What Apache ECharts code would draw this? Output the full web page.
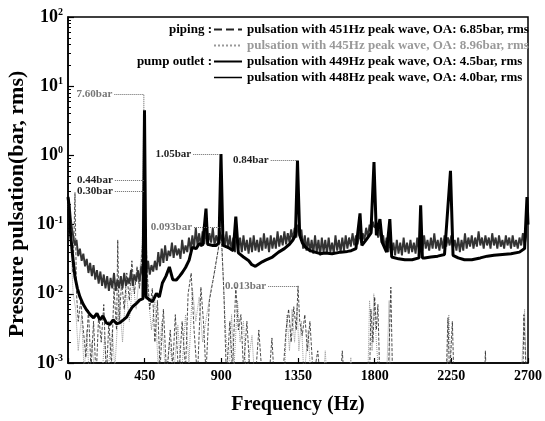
<!DOCTYPE html>
<html>
<head>
<meta charset="utf-8">
<script src="https://cdn.jsdelivr.net/npm/echarts@6/dist/echarts.min.js"></script>
<style>
  html, body { margin: 0; padding: 0; background: #fff; }
  #graph { width: 545px; height: 421px; }
</style>
</head>
<body>
<div id="graph"></div>
<script>
var FONT = 'Liberation Serif';

// legend names
var names = [
    'pulsation with 451Hz peak wave, OA: 6.85bar, rms',
    'pulsation with 445Hz peak wave, OA: 8.96bar, rms',
    'pulsation with 449Hz peak wave, OA: 4.5bar, rms',
    'pulsation with 448Hz peak wave, OA: 4.0bar, rms'
];

var xTicks = [0, 450, 900, 1350, 1800, 2250, 2700];

// piping, 451Hz (dashed black)
var piping451Freq = [0, 10, 20, 30, 41, 50, 60, 75, 90, 105, 120, 135, 150, 165, 180, 195, 210, 225, 240, 255,
    270, 285, 292, 300, 315, 330, 345, 360, 375, 390, 405, 420, 435, 451, 465, 480, 495, 510, 525, 540,
    560, 580, 600, 615, 630, 650, 670, 690, 705, 723, 740, 760, 780, 795, 810, 830, 850, 870, 886, 902,
    915, 930, 950, 965, 985, 1000, 1015, 1030, 1050, 1070, 1100, 1120, 1140, 1180, 1197, 1210, 1260, 1280, 1295, 1310,
    1325, 1340, 1350, 1360, 1375, 1390, 1405, 1420, 1440, 1466, 1480, 1600, 1610, 1620, 1770, 1778, 1790, 1800, 1810, 1819,
    1830, 1880, 1895, 1905, 2220, 2230, 2240, 2256, 2265, 2445, 2450, 2455, 2670, 2676, 2690, 2700];
var piping451Val = [0.25, 0.12, 0.05, 0.02, 0.29, 0.01, 0.004, 0.008, 0.003, 0.0012, 0.006, 0.0008, 0.004, 0.0006, 0.005, 0.002, 0.007, 0.0006, 0.004, 0.0009,
    0.012, 0.003, 0.06, 0.004, 0.015, 0.006, 0.02, 0.008, 0.03, 0.01, 0.025, 0.012, 0.04, 0.30, 0.02, 0.006, 0.012, 0.002, 0.008, 0.0008,
    0.006, 0.0006, 0.003, 0.0009, 0.005, 0.0006, 0.004, 0.0008, 0.01, 0.02, 0.003, 0.0006, 0.0125, 0.004, 0.0007, 0.008, 0.015, 0.03, 0.05, 0.06,
    0.01, 0.0006, 0.004, 0.0008, 0.0125, 0.003, 0.005, 0.0008, 0.004, 0.0006, 0.0006, 0.003, 0.0006, 0.0006, 0.0023, 0.0006, 0.0006, 0.003, 0.006, 0.002,
    0.0065, 0.003, 0.013, 0.004, 0.0025, 0.005, 0.0015, 0.004, 0.0006, 0.0015, 0.0006, 0.0006, 0.0015, 0.0006, 0.0006, 0.006, 0.002, 0.009, 0.003, 0.007,
    0.0006, 0.0006, 0.0125, 0.0006, 0.0006, 0.0045, 0.0006, 0.004, 0.0006, 0.0006, 0.0015, 0.0006, 0.0006, 0.005, 0.0006, 0.0006];

// piping, 445Hz (grey dotted)
var piping445Freq = [0, 15, 30, 45, 60, 80, 95, 110, 125, 140, 160, 200, 215, 230, 260, 275, 300, 320, 340, 360,
    380, 400, 420, 435, 445, 455, 470, 490, 510, 530, 550, 575, 595, 620, 645, 665, 690, 710, 730, 750,
    770, 790, 815, 840, 860, 880, 895, 910, 925, 945, 960, 975, 995, 1010, 1030, 1045, 1080, 1095, 1270, 1285,
    1300, 1315, 1330, 1345, 1355, 1370, 1385, 1410, 1425, 1500, 1510, 1520, 1650, 1660, 1670, 1760, 1770, 1785, 1795, 1810,
    1825, 1870, 1885, 1890, 2225, 2235, 2250, 2660, 2680, 2690, 2700];
var piping445Val = [0.2, 0.06, 0.01, 0.006, 0.0015, 0.005, 0.0007, 0.003, 0.0006, 0.002, 0.0006, 0.0006, 0.0025, 0.0006, 0.003, 0.0008, 0.01, 0.002, 0.012, 0.004,
    0.015, 0.006, 0.02, 0.05, 7.6, 0.05, 0.01, 0.003, 0.008, 0.0008, 0.004, 0.0006, 0.002, 0.0007, 0.0035, 0.0006, 0.005, 0.001, 0.012, 0.004,
    0.009, 0.002, 0.005, 0.012, 0.02, 0.04, 0.09, 0.02, 0.003, 0.0006, 0.005, 0.0009, 0.008, 0.002, 0.004, 0.0006, 0.0025, 0.0006, 0.0006, 0.005,
    0.0015, 0.006, 0.002, 0.007, 0.0015, 0.004, 0.0006, 0.003, 0.0006, 0.0006, 0.0015, 0.0006, 0.0006, 0.0012, 0.0006, 0.0006, 0.008, 0.0015, 0.01, 0.002,
    0.0006, 0.0006, 0.008, 0.0006, 0.0006, 0.005, 0.0006, 0.0006, 0.006, 0.0006, 0.0006];

// pump outlet, 449Hz (thick black)
var outlet449Freq = [0, 5, 12, 25, 41, 55, 70, 90, 110, 130, 150, 170, 187, 205, 225, 245, 265, 285, 303, 325,
    344, 360, 379, 400, 420, 440, 449, 458, 478, 496, 519, 536, 554, 575, 595, 615, 636, 655, 671, 690,
    711, 729, 752, 770, 790, 810, 820, 850, 870, 886, 898, 910, 945, 970, 985, 1000, 1030, 1061, 1079, 1100,
    1120, 1140, 1160, 1200, 1236, 1270, 1300, 1320, 1335, 1347, 1360, 1375, 1394, 1420, 1450, 1480, 1510, 1550, 1600, 1640,
    1662, 1690, 1714, 1725, 1750, 1778, 1796, 1810, 1831, 1845, 1870, 1889, 1900, 1940, 1977, 2020, 2060, 2070, 2080, 2093,
    2130, 2170, 2210, 2245, 2260, 2290, 2327, 2370, 2420, 2461, 2500, 2550, 2600, 2650, 2680, 2694, 2700];
var outlet449Val = [0.25, 0.2, 0.09, 0.04, 0.0175, 0.012, 0.009, 0.007, 0.0058, 0.005, 0.0045, 0.0052, 0.0042, 0.0048, 0.0038, 0.0036, 0.0042, 0.0037, 0.0038, 0.0042,
    0.0046, 0.0055, 0.0065, 0.0072, 0.0081, 0.0085, 4.5, 0.009, 0.0082, 0.0077, 0.0101, 0.009, 0.0143, 0.018, 0.0244, 0.016, 0.0158, 0.018, 0.0203, 0.024,
    0.0307, 0.0467, 0.045, 0.053, 0.05, 0.17, 0.052, 0.05, 0.05, 0.055, 1.05, 0.05, 0.046, 0.042, 0.13, 0.039, 0.034, 0.03, 0.0263, 0.025,
    0.027, 0.029, 0.0307, 0.034, 0.04, 0.045, 0.052, 0.06, 0.07, 0.84, 0.07, 0.055, 0.047, 0.042, 0.04, 0.038, 0.039, 0.038, 0.04, 0.041,
    0.042, 0.045, 0.145, 0.05, 0.06, 0.075, 0.8, 0.07, 0.12, 0.055, 0.04, 0.12, 0.034, 0.032, 0.031, 0.031, 0.033, 0.19, 0.033, 0.033,
    0.034, 0.035, 0.037, 0.6, 0.036, 0.033, 0.031, 0.031, 0.033, 0.035, 0.036, 0.037, 0.038, 0.04, 0.045, 0.25, 0.1];

// pump outlet, 448Hz (dark grey band), sampled every 10 Hz from 0
var outlet448Step = 10;
var outlet448Val = [
    0.25, 0.18, 0.1, 0.07, 0.05, 0.06, 0.035, 0.045, 0.03, 0.038, 0.025,
    0.032, 0.02, 0.028, 0.018, 0.026, 0.016, 0.022, 0.014, 0.021, 0.013,
    0.019, 0.012, 0.018, 0.011, 0.017, 0.012, 0.02, 0.011, 0.016, 0.012,
    0.018, 0.012, 0.02, 0.013, 0.017, 0.014, 0.022, 0.013, 0.019, 0.015,
    0.022, 0.015, 0.025, 0.018, 0.028, 0.02, 0.03, 0.019, 0.026, 0.021,
    0.03, 0.022, 0.04, 0.025, 0.045, 0.028, 0.05, 0.03, 0.042, 0.035,
    0.055, 0.033, 0.05, 0.036, 0.045, 0.032, 0.06, 0.038, 0.05, 0.04,
    0.065, 0.042, 0.07, 0.045, 0.09, 0.05, 0.075, 0.048, 0.08, 0.052,
    0.085, 0.05, 0.075, 0.055, 0.09, 0.05, 0.07, 0.055, 0.08, 0.06,
    0.075, 0.048, 0.08, 0.045, 0.07, 0.042, 0.065, 0.04, 0.075, 0.045,
    0.065, 0.04, 0.07, 0.042, 0.06, 0.038, 0.065, 0.04, 0.07, 0.042,
    0.06, 0.04, 0.065, 0.042, 0.075, 0.045, 0.065, 0.04, 0.07, 0.045,
    0.065, 0.045, 0.08, 0.048, 0.07, 0.05, 0.08, 0.052, 0.075, 0.055,
    0.085, 0.06, 0.09, 0.065, 0.1, 0.07, 0.085, 0.045, 0.07, 0.042,
    0.065, 0.04, 0.06, 0.038, 0.07, 0.04, 0.06, 0.036, 0.065, 0.04,
    0.06, 0.038, 0.065, 0.04, 0.055, 0.038, 0.07, 0.042, 0.06, 0.04,
    0.065, 0.042, 0.07, 0.045, 0.065, 0.048, 0.075, 0.05, 0.07, 0.052,
    0.08, 0.055, 0.075, 0.06, 0.09, 0.065, 0.1, 0.075, 0.11, 0.09,
    0.1, 0.065, 0.085, 0.055, 0.07, 0.045, 0.065, 0.04, 0.06, 0.038,
    0.055, 0.036, 0.06, 0.038, 0.055, 0.036, 0.065, 0.04, 0.055, 0.038,
    0.06, 0.04, 0.055, 0.038, 0.065, 0.04, 0.06, 0.042, 0.07, 0.045,
    0.06, 0.042, 0.065, 0.045, 0.075, 0.045, 0.06, 0.042, 0.065, 0.045,
    0.07, 0.048, 0.065, 0.05, 0.07, 0.045, 0.06, 0.042, 0.065, 0.04,
    0.06, 0.042, 0.075, 0.045, 0.065, 0.048, 0.07, 0.045, 0.065, 0.048,
    0.08, 0.05, 0.065, 0.045, 0.07, 0.05, 0.065, 0.045, 0.075, 0.05,
    0.065, 0.045, 0.07, 0.048, 0.06, 0.045, 0.07, 0.05, 0.065, 0.045,
    0.07, 0.048, 0.06, 0.045, 0.065, 0.05, 0.075, 0.05, 0.07, 0.2
];
var outlet448PeakFreq = [447];
var outlet448PeakVal = [0.44];

// annotations: [text, value, leader start freq, leader end freq, colour]
var notes = [
    ['7.60bar', 7.6, 272, 445, '#777'],
    ['0.44bar', 0.44, 275, 450, '#222'],
    ['0.30bar', 0.30, 275, 450, '#222'],
    ['1.05bar', 1.05, 735, 898, '#222'],
    ['0.84bar', 0.84, 1190, 1347, '#222'],
    ['0.093bar', 0.093, 740, 898, '#777'],
    ['0.013bar', 0.013, 1175, 1350, '#777']
];

function pairs(fs, vs) {
    return fs.map(function (f, i) { return [f, vs[i]]; });
}

var band = outlet448Val.map(function (v, i) { return [i * outlet448Step, v]; })
    .concat(pairs(outlet448PeakFreq, outlet448PeakVal))
    .sort(function (a, b) { return a[0] - b[0]; });

var minorTicks = [];
for (var d = -3; d < 2; d++) {
    for (var k = 2; k < 10; k++) {
        minorTicks.push(+(k * Math.pow(10, d)).toPrecision(3));
    }
}

var dom = document.getElementById('graph');
var chart = echarts.init(dom, null, { renderer: 'canvas' });

var noSymbol = { color: 'rgba(0,0,0,0)', borderWidth: 0 };

chart.setOption({
    animation: false,
    backgroundColor: '#fff',
    textStyle: { fontFamily: FONT },
    grid: {
        left: 68, right: 13, top: 17, bottom: 58,
        show: true, borderColor: '#000', borderWidth: 1.5
    },
    legend: {
        orient: 'vertical',
        left: 213, top: 23,
        itemGap: 3, itemWidth: 28, itemHeight: 13,
        padding: 0,
        itemStyle: { opacity: 0 },
        textStyle: { fontFamily: FONT, fontWeight: 'bold', fontSize: 13, color: '#000' },
        data: [
            { name: names[0] },
            { name: names[1], textStyle: { color: '#999' } },
            { name: names[2] },
            { name: names[3], lineStyle: { color: '#000', width: 1.5 } }
        ]
    },
    graphic: [
        { type: 'text', right: 333, top: 23,
          style: { text: 'piping :', font: 'bold 13px ' + FONT, fill: '#000' } },
        { type: 'text', right: 333, top: 55,
          style: { text: 'pump outlet :', font: 'bold 13px ' + FONT, fill: '#000' } },
        { type: 'text', x: 17, y: 204, rotation: Math.PI / 2,
          style: { text: 'Pressure pulsation(bar, rms)', font: 'bold 22px ' + FONT, fill: '#000',
                   align: 'center', verticalAlign: 'middle' } }
    ],
    xAxis: {
        type: 'value',
        min: 0, max: 2700, interval: 450,
        name: 'Frequency (Hz)',
        nameLocation: 'middle', nameGap: 32,
        nameTextStyle: { fontFamily: FONT, fontWeight: 'bold', fontSize: 20, color: '#000' },
        axisLine: { lineStyle: { color: '#000', width: 1.5 } },
        axisTick: { inside: true, length: 5, lineStyle: { color: '#000', width: 1.2 } },
        axisLabel: { fontFamily: FONT, fontWeight: 'bold', fontSize: 14, color: '#000', margin: 6,
                     customValues: xTicks,
                     formatter: function (v) { return String(v); } },
        splitLine: { show: false }
    },
    yAxis: [{
        type: 'log', logBase: 10,
        min: 0.001, max: 100,
        axisLine: { show: true, lineStyle: { color: '#000', width: 1.5 } },
        axisTick: { show: true, inside: true, length: 6, lineStyle: { color: '#000', width: 1.2 } },
        axisLabel: {
            margin: 5,
            formatter: function (v) {
                return '{a|10}{b|' + Math.round(Math.log10(v)) + '}';
            },
            rich: {
                a: { fontFamily: FONT, fontWeight: 'bold', fontSize: 18, color: '#000' },
                b: { fontFamily: FONT, fontWeight: 'bold', fontSize: 10, color: '#000',
                     verticalAlign: 'top', padding: [0, 0, 9, 0] }
            }
        },
        splitLine: { show: false }
    }, {
        type: 'log', logBase: 10,
        min: 0.001, max: 100,
        position: 'left',
        axisLine: { show: false },
        axisLabel: { show: false },
        axisTick: { show: true, inside: true, length: 3, customValues: minorTicks,
                    lineStyle: { color: '#000', width: 1 } },
        splitLine: { show: false }
    }],
    series: [
        {
            name: names[1], type: 'line', symbol: 'none',
            data: pairs(piping445Freq, piping445Val),
            lineStyle: { color: '#999', width: 1, type: 'dotted' },
            itemStyle: noSymbol,
            z: 1,
            markLine: {
                silent: true, symbol: 'none', animation: false,
                data: notes.map(function (n) {
                    return [
                        { coord: [n[2], n[1]], lineStyle: { color: '#666', type: 'dotted', width: 1 },
                          label: { show: true, position: 'start', formatter: n[0], color: n[4],
                                   fontFamily: FONT, fontWeight: 'bold', fontSize: 11, distance: 2 } },
                        { coord: [n[3], n[1]] }
                    ];
                })
            }
        },
        {
            name: names[0], type: 'line', symbol: 'none',
            data: pairs(piping451Freq, piping451Val),
            lineStyle: { color: '#222', width: 0.8, type: 'dashed' },
            itemStyle: noSymbol,
            z: 2
        },
        {
            name: names[3], type: 'line', symbol: 'none',
            data: band,
            lineStyle: { color: '#333', width: 1.9 },
            itemStyle: noSymbol,
            z: 3
        },
        {
            name: names[2], type: 'line', symbol: 'none',
            data: pairs(outlet449Freq, outlet449Val),
            lineStyle: { color: '#000', width: 3 },
            itemStyle: noSymbol,
            z: 4
        }
    ]
});
</script>
</body>
</html>
